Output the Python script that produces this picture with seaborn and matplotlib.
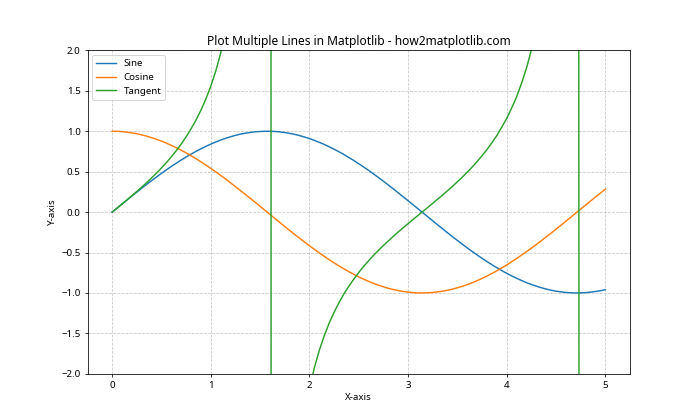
import matplotlib
matplotlib.use("Agg")
import matplotlib.pyplot as plt
import seaborn as sns

x = [0.0, 0.05, 0.1, 0.15, 0.2, 0.25, 0.3, 0.35, 0.4, 0.45, 0.5, 0.55, 0.6, 0.65, 0.7, 0.75,
     0.8, 0.85, 0.9, 0.95, 1.0, 1.05, 1.1, 1.15, 1.2, 1.25, 1.3, 1.35, 1.4, 1.45, 1.5, 1.55,
     1.566, 1.616,
     1.65, 1.7, 1.75, 1.8, 1.85, 1.9, 1.95, 2.0,
     2.05, 2.1, 2.15, 2.2, 2.25, 2.3, 2.35, 2.4, 2.45, 2.5,
     2.55, 2.6, 2.65, 2.7, 2.75, 2.8, 2.85, 2.9, 2.95, 3.0,
     3.05, 3.1, 3.15, 3.2, 3.25, 3.3, 3.35, 3.4, 3.45, 3.5,
     3.55, 3.6, 3.65, 3.7, 3.75, 3.8, 3.85, 3.9, 3.95, 4.0,
     4.05, 4.1, 4.15, 4.2, 4.25, 4.3, 4.35, 4.4, 4.45, 4.5,
     4.55, 4.6, 4.65,
     4.697, 4.747, 4.8, 4.85, 4.9, 4.95, 5.0]

sine = [0.000, 0.050, 0.100, 0.149, 0.199, 0.247, 0.296, 0.343, 0.389, 0.435, 0.479, 0.523,
        0.565, 0.605, 0.644, 0.682, 0.717, 0.751, 0.783, 0.813, 0.841, 0.867, 0.891, 0.913,
        0.932, 0.949, 0.964, 0.976, 0.985, 0.993, 0.997, 1.000,
        1.000, 0.999,
        0.997, 0.992, 0.984, 0.974, 0.961, 0.946, 0.929, 0.909,
        0.887, 0.863, 0.837, 0.808, 0.778, 0.746, 0.712, 0.675, 0.638, 0.598,
        0.558, 0.516, 0.472, 0.427, 0.382, 0.335, 0.288, 0.239, 0.190, 0.141,
        0.091, 0.042, -0.008, -0.058, -0.108, -0.158, -0.206, -0.256, -0.304, -0.351,
        -0.397, -0.443, -0.487, -0.530, -0.572, -0.612, -0.651, -0.688, -0.724, -0.757,
        -0.789, -0.818, -0.846, -0.872, -0.895, -0.916, -0.935, -0.952, -0.966, -0.978,
        -0.987, -0.994, -0.998,
        -1.000, -0.999, -0.996, -0.990, -0.982, -0.972, -0.959]

cosine = [1.000, 0.999, 0.995, 0.989, 0.980, 0.969, 0.955, 0.939, 0.921, 0.900, 0.878, 0.853,
          0.825, 0.796, 0.765, 0.732, 0.697, 0.660, 0.622, 0.582, 0.540, 0.498, 0.454, 0.409,
          0.362, 0.315, 0.267, 0.219, 0.170, 0.121, 0.071, 0.021,
          0.005, -0.045,
          -0.079, -0.129, -0.178, -0.227, -0.276, -0.323, -0.370, -0.416,
          -0.461, -0.505, -0.547, -0.589, -0.628, -0.666, -0.702, -0.737, -0.770, -0.801,
          -0.830, -0.857, -0.882, -0.904, -0.924, -0.942, -0.958, -0.971, -0.982, -0.990,
          -0.996, -0.999, -1.000, -0.998, -0.994, -0.987, -0.978, -0.967, -0.953, -0.936,
          -0.918, -0.897, -0.874, -0.848, -0.820, -0.791, -0.759, -0.726, -0.690, -0.654,
          -0.614, -0.575, -0.532, -0.490, -0.446, -0.401, -0.355, -0.307, -0.260, -0.211,
          -0.163, -0.112, -0.063,
          -0.015, 0.035, 0.087, 0.137, 0.187, 0.235, 0.284]

tangent = [0.000, 0.050, 0.100, 0.151, 0.203, 0.255, 0.309, 0.365, 0.423, 0.483, 0.546, 0.613,
           0.684, 0.760, 0.842, 0.932, 1.030, 1.138, 1.260, 1.398, 1.557, 1.743, 1.965, 2.234,
           2.572, 3.010, 3.602, 4.455, 5.798, 8.238, 14.10, 48.08,
           194.6, -22.03,
           -12.6, -7.697, -5.52, -4.286, -3.48, -2.927, -2.53, -2.185,
           -1.925, -1.710, -1.530, -1.374, -1.239, -1.119, -1.011, -0.916, -0.829, -0.747,
           -0.672, -0.602, -0.535, -0.473, -0.413, -0.356, -0.300, -0.246, -0.194, -0.143,
           -0.092, -0.042, 0.008, 0.058, 0.109, 0.160, 0.211, 0.264, 0.318, 0.375,
           0.432, 0.494, 0.557, 0.625, 0.697, 0.774, 0.858, 0.947, 1.051, 1.158,
           1.287, 1.424, 1.592, 1.778, 2.006, 2.286, 2.644, 3.096, 3.72, 4.637,
           6.05, 8.86, 16.0,
           64.8, -28.5, -11.38, -7.20, -5.27, -4.13, -3.381]

plt.rcParams["font.family"] = ["Noto Sans", "DejaVu Sans"]
fig, ax = plt.subplots(figsize=(10, 6), dpi=70)

sns.lineplot(x=x, y=sine, label="Sine", color="#1f77b4", ax=ax, sort=False)
sns.lineplot(x=x, y=cosine, label="Cosine", color="#ff7f0e", ax=ax, sort=False)
sns.lineplot(x=x, y=tangent, label="Tangent", color="#2ca02c", ax=ax, sort=False)

ax.set_ylim(-2, 2)
ax.set_title("Plot Multiple Lines in Matplotlib - how2matplotlib.com", fontsize=12.3)
ax.set_xlabel("X-axis")
ax.set_ylabel("Y-axis")
ax.grid(True, linestyle="--", alpha=0.7)
ax.legend(loc="upper left")

fig.savefig("out.png", dpi=70)
